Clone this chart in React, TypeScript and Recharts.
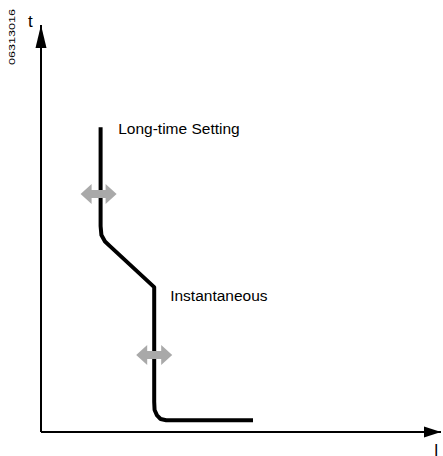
import React from "react";
import { ComposedChart, Line, XAxis, YAxis, ReferenceLine, ReferenceDot } from "recharts";

// Trip curve (current I vs time t), in abstract axis units
const curveI = [1.49, 1.49, 1.51, 1.6, 1.73, 2.83, 2.83, 2.84, 2.9, 2.99, 3.13, 5.3];
const curveT = [7.49, 5.06, 4.84, 4.68, 4.56, 3.56, 0.74, 0.54, 0.41, 0.32, 0.29, 0.29];

// Adjustment arrows (I, t)
const arrowI = [1.44, 2.83];
const arrowT = [5.85, 1.89];

// Curve labels
const labelText = ["Long-time Setting", "Instantaneous"];
const labelI = [1.93, 3.23];
const labelT = [7.32, 3.22];

const axisMax = 10;
const yAxisLabel = "t";
const xAxisLabel = "I";
const figureId = "06313016";

const data = curveI.map((I, i) => ({ I, t: curveT[i] }));

const FONT = "'Liberation Sans', Arial, Helvetica, sans-serif";
const GREY = "#a9a9a9";

const DoubleArrow = (props: any) => {
  const { cx, cy } = props;
  const half = 18;
  const head = 11;
  const hh = 10;
  const sh = 4;
  const pts = [
    [cx - half, cy],
    [cx - half + head, cy - hh],
    [cx - half + head, cy - sh],
    [cx + half - head, cy - sh],
    [cx + half - head, cy - hh],
    [cx + half, cy],
    [cx + half - head, cy + hh],
    [cx + half - head, cy + sh],
    [cx - half + head, cy + sh],
    [cx - half + head, cy + hh],
  ]
    .map((p) => p.join(","))
    .join(" ");
  return <polygon points={pts} fill={GREY} />;
};

const UpArrowHead = (props: any) => {
  const { cx, cy } = props;
  return (
    <g>
      <polygon points={`${cx},${cy} ${cx - 5.5},${cy + 23} ${cx + 5.5},${cy + 23}`} fill="#000" />
      <text x={cx - 13} y={cy + 2} fontSize={17} fontFamily={FONT} fill="#000">
        {yAxisLabel}
      </text>
      <text
        x={12}
        y={37}
        fontSize={9}
        fontFamily={FONT}
        fill="#000"
        textAnchor="middle"
        dominantBaseline="central"
        textLength={56}
        lengthAdjust="spacingAndGlyphs"
        transform="rotate(-90 12 37)"
      >
        {figureId}
      </text>
    </g>
  );
};

const RightArrowHead = (props: any) => {
  const { cx, cy } = props;
  return (
    <g>
      <polygon points={`${cx},${cy} ${cx - 17},${cy - 5.5} ${cx - 17},${cy + 5.5}`} fill="#000" />
      <text x={cx - 7} y={cy + 24} fontSize={16} fontFamily={FONT} fill="#000">
        {xAxisLabel}
      </text>
    </g>
  );
};

const makeLabel = (text: string) => (props: any) => {
  const { cx, cy } = props;
  return (
    <text x={cx} y={cy} fontSize={15.5} fontFamily={FONT} fill="#000">
      {text}
    </text>
  );
};

export default function App() {
  return (
    <div style={{ position: "absolute", left: 0, top: 0, width: 443, height: 456, background: "#fff" }}>
      <ComposedChart
        width={443}
        height={456}
        data={data}
        margin={{ top: 25, right: 2, bottom: 24, left: 41 }}
      >
        <XAxis dataKey="I" type="number" domain={[0, axisMax]} hide />
        <YAxis type="number" domain={[0, axisMax]} hide />
        <ReferenceLine x={0} stroke="#000" strokeWidth={2} ifOverflow="visible" />
        <ReferenceLine y={0} stroke="#000" strokeWidth={2} ifOverflow="visible" />
        <ReferenceDot x={0} y={axisMax} r={0} ifOverflow="visible" shape={UpArrowHead} />
        <ReferenceDot x={axisMax} y={0} r={0} ifOverflow="visible" shape={RightArrowHead} />
        <Line
          dataKey="t"
          type="linear"
          stroke="#000"
          strokeWidth={4}
          strokeLinejoin="round"
          dot={false}
          activeDot={false}
          isAnimationActive={false}
        />
        {arrowI.map((I, i) => (
          <ReferenceDot key={"a" + i} x={I} y={arrowT[i]} r={0} ifOverflow="visible" shape={DoubleArrow} />
        ))}
        {labelText.map((txt, i) => (
          <ReferenceDot key={"l" + i} x={labelI[i]} y={labelT[i]} r={0} ifOverflow="visible" shape={makeLabel(txt)} />
        ))}
      </ComposedChart>
    </div>
  );
}
